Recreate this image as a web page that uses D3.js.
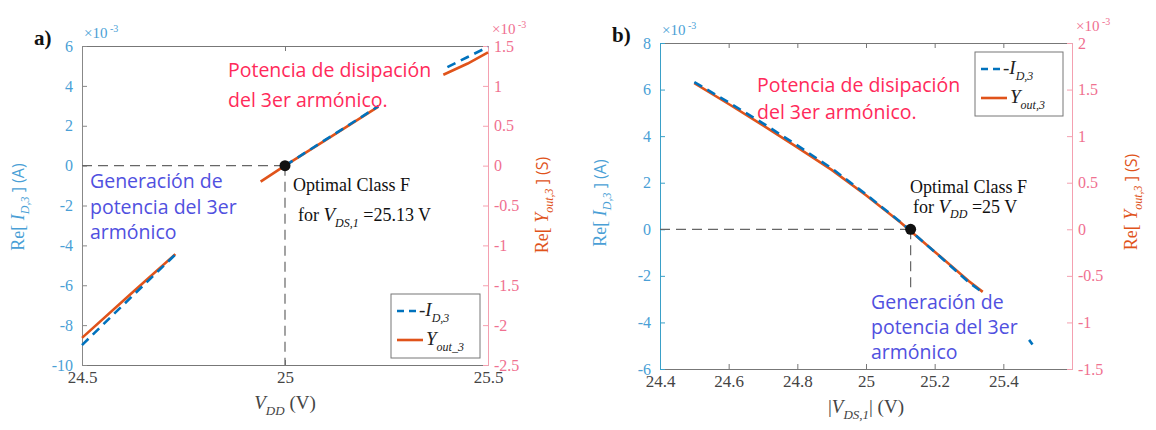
<!DOCTYPE html>
<html>
<head>
<meta charset="utf-8">
<script src="https://cdn.jsdelivr.net/npm/d3@7"></script>
<style>
  body { margin: 0; background: #fff; }
  svg text { font-family: "Liberation Serif", "Times New Roman", serif; }
  .nota { font-family: "Open Sans", "Noto Sans", sans-serif; }
</style>
</head>
<body>
<svg id="graf" width="1156" height="430"></svg>
<script>
// ---- datos panel a ----
var xTicksA = [24.5, 25, 25.5];
var yLeftTicksA = [-10, -8, -6, -4, -2, 0, 2, 4, 6];
var yRightTicksA = [-2.5, -2, -1.5, -1, -0.5, 0, 0.5, 1, 1.5];

var vddA1 = [24.5, 24.62, 24.73];
var idA1 = [-9.0, -6.62, -4.46];      // -I_D,3 (x10^-3 A)
var yoA1 = [-2.16, -1.61, -1.11];     // Y_out,3 (x10^-3 S)
var vddA2o = [24.94, 25.0, 25.1, 25.23];
var yoA2 = [-0.2, 0, 0.32, 0.74];
var vddA2i = [25.0, 25.1, 25.23];
var idA2 = [0, 1.3, 2.98];
var vddA3o = [25.39, 25.45, 25.5];
var yoA3 = [1.14, 1.28, 1.42];
var vddA3i = [25.4, 25.45, 25.5];
var idA3 = [4.94, 5.45, 5.95];
var optA = [25.0, 0];

// ---- datos panel b ----
var xTicksB = [24.4, 24.6, 24.8, 25, 25.2, 25.4];
var yLeftTicksB = [-6, -4, -2, 0, 2, 4, 6, 8];
var yRightTicksB = [-1.5, -1, -0.5, 0, 0.5, 1, 1.5, 2];

var vdsB = [24.5, 24.6, 24.7, 24.8, 24.9, 25.0, 25.1, 25.2, 25.3, 25.34];
var idB = [6.32, 5.45, 4.55, 3.6, 2.62, 1.5, 0.32, -0.97, -2.28, -2.72];
var yoB = [1.57, 1.345, 1.115, 0.88, 0.638, 0.365, 0.075, -0.24, -0.558, -0.672];
var vdsBx = [25.475, 25.485];
var idBx = [-4.75, -4.95];
var optB = [25.13, 0];

var colAzul = "#0072bd", colNaranja = "#e0531a";
var colEjeIzq = "#4a9fd6", colEjeDer = "#f07090";
var serif = "'Liberation Serif', 'Times New Roman', serif";

var svg = d3.select("#graf");

function par(xs, ys) {
  return xs.map(function(d, i){ return [d, ys[i]]; });
}

function dibujarPanel(c) {
  var x = d3.scaleLinear().domain(c.xDom).range([c.l, c.r]);
  var yL = d3.scaleLinear().domain(c.yLDom).range([c.b, c.t]);
  var yR = d3.scaleLinear().domain(c.yRDom).range([c.b, c.t]);
  var fmt = function(d){ return String(d); };

  var g = svg.append("g");

  // ejes
  var ab = g.append("g").attr("transform","translate(0," + c.b + ")")
    .call(d3.axisBottom(x).tickValues(c.xTicks).tickSize(-5).tickPadding(6).tickFormat(fmt).tickSizeOuter(0));
  ab.attr("font-family", serif).attr("font-size", 17);
  ab.selectAll("text").attr("fill","#444");
  ab.selectAll("line, path").attr("stroke","#777");

  var at = g.append("g").attr("transform","translate(0," + c.t + ")")
    .call(d3.axisTop(x).tickValues(c.xTicks).tickSize(-5).tickFormat("").tickSizeOuter(0));
  at.selectAll("line, path").attr("stroke","#777");

  var al = g.append("g").attr("transform","translate(" + c.l + ",0)")
    .call(d3.axisLeft(yL).tickValues(c.yLTicks).tickSize(-5).tickPadding(9).tickFormat(fmt).tickSizeOuter(0));
  al.attr("font-family", serif).attr("font-size", 16);
  al.selectAll("text").attr("fill", colEjeIzq);
  al.selectAll("line, path").attr("stroke", c.izqLinea);

  var ar = g.append("g").attr("transform","translate(" + c.r + ",0)")
    .call(d3.axisRight(yR).tickValues(c.yRTicks).tickSize(-5).tickPadding(6).tickFormat(fmt).tickSizeOuter(0));
  ar.attr("font-family", serif).attr("font-size", 16);
  ar.selectAll("text").attr("fill", colEjeDer);
  ar.selectAll("line, path").attr("stroke", "#f4a0b0");

  // lineas de referencia
  g.append("line")
    .attr("x1", c.l).attr("x2", x(c.opt[0]))
    .attr("y1", yL(0)).attr("y2", yL(0))
    .attr("stroke","#666").attr("stroke-width",1.2).attr("stroke-dasharray","10,6");
  g.append("line")
    .attr("x1", x(c.opt[0])).attr("x2", x(c.opt[0]))
    .attr("y1", yL(0)).attr("y2", yL(c.vFin))
    .attr("stroke","#666").attr("stroke-width",1.2).attr("stroke-dasharray","10,6");

  var lineaL = d3.line().x(function(d){ return x(d[0]); }).y(function(d){ return yL(d[1]); });
  var lineaR = d3.line().x(function(d){ return x(d[0]); }).y(function(d){ return yR(d[1]); });

  c.naranja.forEach(function(s){
    g.append("path").attr("d", lineaR(s)).attr("fill","none")
      .attr("stroke", colNaranja).attr("stroke-width", 2.6);
  });
  c.azul.forEach(function(s){
    g.append("path").attr("d", lineaL(s)).attr("fill","none")
      .attr("stroke", colAzul).attr("stroke-width", 2.6).attr("stroke-dasharray","9,6");
  });

  g.append("circle").attr("cx", x(c.opt[0])).attr("cy", yL(c.opt[1])).attr("r", 5.5).attr("fill","#111");

  // x10^-3
  var e1 = g.append("text").attr("x", c.l + 2).attr("y", c.t - 8).attr("fill", colEjeIzq).attr("font-size", 15);
  e1.append("tspan").text("\u00d710");
  e1.append("tspan").attr("dy", -6).attr("font-size", 10).text(" -3");
  var e2 = g.append("text").attr("x", c.r + 4).attr("y", c.t - 12).attr("fill", colEjeDer).attr("font-size", 15);
  e2.append("tspan").text("\u00d710");
  e2.append("tspan").attr("dy", -6).attr("font-size", 10).text(" -3");

  // letra del panel
  g.append("text").attr("x", c.l - 48).attr("y", c.t - 1)
    .attr("font-family","'Open Sans', sans-serif").attr("font-weight","bold")
    .attr("font-size", 21).attr("fill","#111").text(c.letra);

  // etiquetas de ejes
  var t1 = g.append("text").attr("transform","translate(" + c.lblIzq[0] + "," + c.lblIzq[1] + ") rotate(-90)")
    .attr("text-anchor","middle").attr("fill", colEjeIzq).attr("font-size", 18);
  t1.append("tspan").text("Re[ ");
  t1.append("tspan").attr("font-style","italic").text("I");
  t1.append("tspan").attr("font-style","italic").attr("font-size", 12).attr("dy", 5).text("D,3");
  t1.append("tspan").attr("dy", -5).attr("font-family","'Open Sans', sans-serif").attr("font-size", 16).text("  ] (A)");

  var t2 = g.append("text").attr("transform","translate(" + c.lblDer[0] + "," + c.lblDer[1] + ") rotate(-90)")
    .attr("text-anchor","middle").attr("fill", colNaranja).attr("font-size", 18);
  t2.append("tspan").text("Re[ ");
  t2.append("tspan").attr("font-style","italic").text("Y");
  t2.append("tspan").attr("font-style","italic").attr("font-size", 12).attr("dy", 5).text("out,3");
  t2.append("tspan").attr("dy", -5).attr("font-family","'Open Sans', sans-serif").attr("font-size", 16).text("  ] (S)");

  var t3 = g.append("text").attr("x", (c.l + c.r) / 2).attr("y", c.b + 44)
    .attr("text-anchor","middle").attr("fill","#444").attr("font-size", 19);
  c.lblX(t3);

  // leyenda
  var lg = g.append("g").attr("transform","translate(" + c.ley[0] + "," + c.ley[1] + ")");
  lg.append("rect").attr("width", c.ley[2]).attr("height", 64).attr("fill","#fff").attr("stroke","#777").attr("stroke-width",1);
  lg.append("line").attr("x1", 6).attr("x2", 28).attr("y1", 17).attr("y2", 17)
    .attr("stroke", colAzul).attr("stroke-width", 2.6).attr("stroke-dasharray","7,5");
  lg.append("line").attr("x1", 6).attr("x2", 32).attr("y1", 46).attr("y2", 46)
    .attr("stroke", colNaranja).attr("stroke-width", 2.6);
  var l1 = lg.append("text").attr("x", 28).attr("y", 22).attr("font-size", 19).attr("font-style","italic").attr("fill","#222");
  l1.append("tspan").text("-I");
  l1.append("tspan").attr("font-size", 12).attr("dy", 6).text("D,3");
  var l2 = lg.append("text").attr("x", 35).attr("y", 51).attr("font-size", 19).attr("font-style","italic").attr("fill","#222");
  l2.append("tspan").text("Y");
  l2.append("tspan").attr("font-size", 12).attr("dy", 6).text(c.subY);

  // notas
  var r = g.append("text").attr("class","nota").attr("fill","#ff2a5a").attr("font-size", 19.5);
  r.append("tspan").attr("x", c.notaRoja[0]).attr("y", c.notaRoja[1]).text("Potencia de disipación");
  r.append("tspan").attr("x", c.notaRoja[0]).attr("y", c.notaRoja[1] + c.notaRoja[2]).text("del 3er armónico.");

  var a = g.append("text").attr("class","nota").attr("fill","#5050e0").attr("font-size", 19.5);
  a.append("tspan").attr("x", c.notaAzul[0]).attr("y", c.notaAzul[1]).text("Generación de");
  a.append("tspan").attr("x", c.notaAzul[0]).attr("y", c.notaAzul[1] + c.notaAzul[2]).text("potencia del 3er");
  a.append("tspan").attr("x", c.notaAzul[0]).attr("y", c.notaAzul[1] + 2 * c.notaAzul[2]).text("armónico");

  c.notaOpt(g);
}

dibujarPanel({
  l: 82, r: 488, t: 46, b: 365,
  xDom: [24.5, 25.5], yLDom: [-10, 6], yRDom: [-2.5, 1.5],
  xTicks: xTicksA, yLTicks: yLeftTicksA, yRTicks: yRightTicksA,
  izqLinea: "#888",
  opt: optA, vFin: -10,
  azul: [par(vddA1, idA1), par(vddA2i, idA2), par(vddA3i, idA3)],
  naranja: [par(vddA1, yoA1), par(vddA2o, yoA2), par(vddA3o, yoA3)],
  letra: "a)",
  lblIzq: [24, 207], lblDer: [548, 205],
  lblX: function(t){
    t.append("tspan").attr("font-style","italic").text("V");
    t.append("tspan").attr("font-style","italic").attr("font-size", 13).attr("dy", 6).text("DD");
    t.append("tspan").attr("dy", -6).text("  (V)");
  },
  ley: [391, 294, 89], subY: "out_3",
  notaRoja: [228, 77, 30], notaAzul: [90, 188, 25.5],
  notaOpt: function(g){
    g.append("text").attr("x", 293).attr("y", 191).attr("font-size", 18).attr("fill","#111").text("Optimal Class F");
    var f = g.append("text").attr("x", 298).attr("y", 221).attr("font-size", 18).attr("fill","#111");
    f.append("tspan").text("for  ");
    f.append("tspan").attr("font-style","italic").attr("font-size", 19).text("V");
    f.append("tspan").attr("font-style","italic").attr("font-size", 12).attr("dy", 6).text("DS,1");
    f.append("tspan").attr("dy", -6).text("  =25.13 V");
  }
});

dibujarPanel({
  l: 660, r: 1072, t: 43, b: 369,
  xDom: [24.4, 25.6], yLDom: [-6, 8], yRDom: [-1.5, 2],
  xTicks: xTicksB, yLTicks: yLeftTicksB, yRTicks: yRightTicksB,
  izqLinea: "#3aa0c8",
  opt: optB, vFin: -2.7,
  azul: [par(vdsB, idB), par(vdsBx, idBx)],
  naranja: [par(vdsB, yoB)],
  letra: "b)",
  lblIzq: [606, 203], lblDer: [1137, 202],
  lblX: function(t){
    t.append("tspan").text("|");
    t.append("tspan").attr("font-style","italic").text("V");
    t.append("tspan").attr("font-style","italic").attr("font-size", 13).attr("dy", 6).text("DS,1");
    t.append("tspan").attr("dy", -6).text("| (V)");
  },
  ley: [975, 52, 88], subY: "out,3",
  notaRoja: [757, 92, 27], notaAzul: [871, 309, 25],
  notaOpt: function(g){
    g.append("text").attr("x", 910).attr("y", 193).attr("font-size", 18).attr("fill","#111").text("Optimal Class F");
    var f = g.append("text").attr("x", 913).attr("y", 213).attr("font-size", 18).attr("fill","#111");
    f.append("tspan").text("for  ");
    f.append("tspan").attr("font-style","italic").attr("font-size", 19).text("V");
    f.append("tspan").attr("font-style","italic").attr("font-size", 12).attr("dy", 5).text("DD");
    f.append("tspan").attr("dy", -5).text(" =25 V");
  }
});
</script>
</body>
</html>
